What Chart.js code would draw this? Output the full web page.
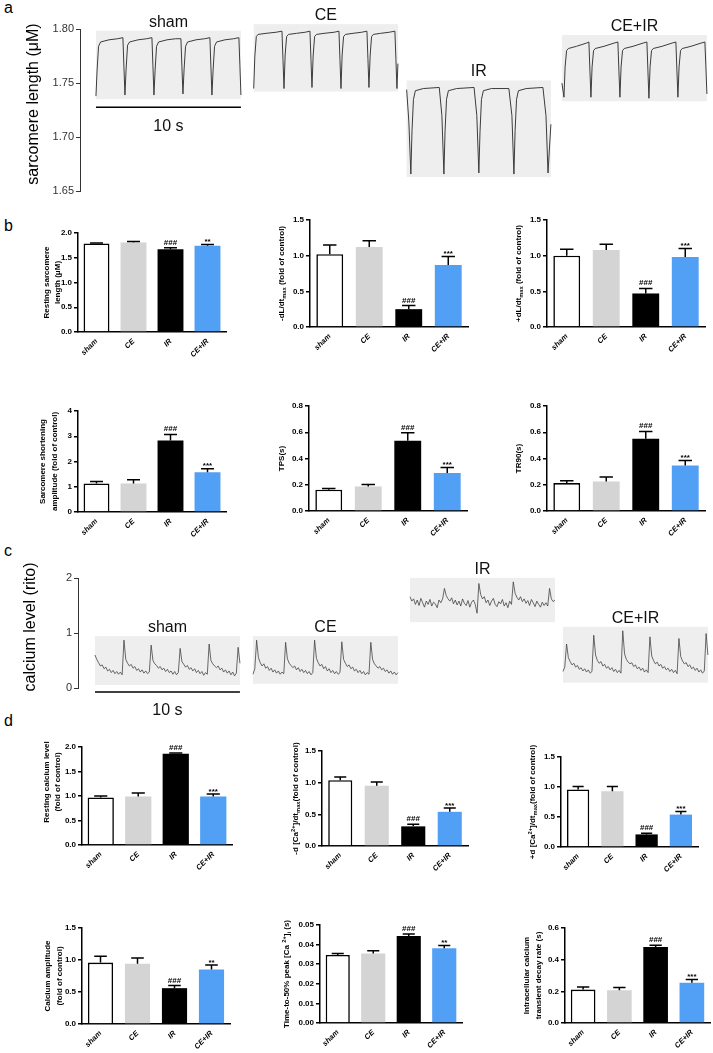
<!DOCTYPE html>
<html>
<head>
<meta charset="utf-8">
<script src="https://cdn.jsdelivr.net/npm/chart.js@4.4.1/dist/chart.umd.min.js"></script>
<style>
html,body{margin:0;padding:0;background:#fff;}
#wrap{position:relative;width:713px;height:1053px;overflow:hidden;font-family:"Liberation Sans",Arial,sans-serif;}
#wrap canvas{position:absolute;}
.lbl{position:absolute;font-size:16px;line-height:16px;color:#000;}
</style>
</head>
<body>
<div id="wrap">
  <div class="lbl" style="left:4px;top:0px">a</div>
  <div class="lbl" style="left:4px;top:218px">b</div>
  <div class="lbl" style="left:4px;top:543px">c</div>
  <div class="lbl" style="left:4px;top:713px">d</div>
</div>
<script>
// ---------------- DATA ----------------
const groups = ['sham', 'CE', 'IR', 'CE+IR'];

// panel b
const restingSL      = [1.79, 1.81, 1.67, 1.74];
const restingSLsem   = [0.01, 0.02, 0.03, 0.03];
const minusDLdt      = [1.02, 1.12, 0.25, 0.87];
const minusDLdtSem   = [0.13, 0.09, 0.05, 0.12];
const plusDLdt       = [1.00, 1.08, 0.47, 0.98];
const plusDLdtSem    = [0.09, 0.08, 0.07, 0.12];
const shortAmp       = [1.13, 1.13, 2.83, 1.57];
const shortAmpSem    = [0.08, 0.15, 0.24, 0.14];
const tps            = [0.162, 0.187, 0.536, 0.289];
const tpsSem         = [0.010, 0.015, 0.060, 0.042];
const tr90           = [0.213, 0.225, 0.550, 0.346];
const tr90Sem        = [0.017, 0.035, 0.056, 0.038];
// panel d
const restCa         = [0.97, 0.99, 1.86, 0.99];
const restCaSem      = [0.03, 0.07, 0.02, 0.05];
const minusDCa       = [1.04, 0.95, 0.31, 0.54];
const minusDCaSem    = [0.05, 0.06, 0.035, 0.06];
const plusDCa        = [0.96, 0.93, 0.21, 0.54];
const plusDCaSem     = [0.05, 0.08, 0.02, 0.05];
const caAmp          = [0.96, 0.94, 0.56, 0.85];
const caAmpSem       = [0.10, 0.09, 0.04, 0.07];
const t50            = [0.0347, 0.0355, 0.0444, 0.0381];
const t50Sem         = [0.0008, 0.0014, 0.0010, 0.0015];
const decay          = [0.211, 0.207, 0.480, 0.255];
const decaySem       = [0.017, 0.017, 0.011, 0.019];

const sig3 = ['', '', '###', '***'];
const sig2 = ['', '', '###', '**'];

// tick values
const ticksRestSL = [0, 0.5, 1.0, 1.5, 2.0];
const ticks15     = [0, 0.5, 1.0, 1.5];
const ticksAmp    = [0, 1, 2, 3, 4];
const ticks08     = [0, 0.2, 0.4, 0.6, 0.8];
const ticks005    = [0, 0.01, 0.02, 0.03, 0.04, 0.05];
const ticks06     = [0, 0.2, 0.4, 0.6];
const ticksSL     = [1.65, 1.70, 1.75, 1.80];
const ticksCa     = [0, 1, 2];

// panel a: sarcomere length traces (time in s within each 10 s record, length in uM)
const shamSL_t = [0,0.08,0.18,0.32,0.9,1.5,1.86,1.93,2.0, 2.08,2.18,2.32,2.9,3.5,3.86,3.93,4.0, 4.08,4.18,4.32,4.9,5.5,5.86,5.93,6.0, 6.08,6.18,6.32,6.9,7.5,7.86,7.93,8.0, 8.08,8.18,8.32,8.9,9.5,9.86,9.93,10.0];
const shamSL_v = [1.738,1.762,1.784,1.788,1.790,1.791,1.792,1.765,1.739, 1.763,1.785,1.788,1.790,1.791,1.792,1.766,1.739, 1.762,1.784,1.788,1.790,1.791,1.791,1.765,1.740, 1.763,1.784,1.788,1.790,1.791,1.792,1.765,1.739, 1.762,1.784,1.788,1.790,1.791,1.792,1.766,1.739];
const ceSL_t = [0.05,0.13,0.23,0.35,0.9,1.6,2.0,2.07,2.14, 2.22,2.32,2.45,3.0,3.6,3.93,4.0,4.07, 4.15,4.25,4.38,4.9,5.6,5.93,6.0,6.07, 6.15,6.25,6.38,6.9,7.5,7.86,7.93,8.0, 8.08,8.18,8.3,8.8,9.4,9.79,9.86,9.93,10.0];
const ceSL_v = [1.745,1.775,1.793,1.795,1.796,1.797,1.798,1.772,1.745, 1.776,1.793,1.795,1.796,1.797,1.798,1.772,1.746, 1.775,1.793,1.795,1.796,1.797,1.798,1.772,1.745, 1.776,1.793,1.795,1.796,1.797,1.798,1.772,1.746, 1.775,1.793,1.795,1.796,1.797,1.798,1.772,1.745,1.768];
const irSL_t = [0.05,0.2,0.34,0.42,0.52,0.65,1.2,2.3,2.48,2.62, 2.7,2.8,2.93,3.5,4.7,4.89,5.03, 5.11,5.21,5.34,5.9,7.1,7.31,7.45, 7.53,7.63,7.76,8.3,9.45,9.66,9.8, 9.9,10.0];
const irSL_v = [1.744,1.715,1.666,1.706,1.735,1.743,1.745,1.746,1.720,1.666, 1.706,1.735,1.743,1.745,1.746,1.720,1.667, 1.705,1.735,1.743,1.745,1.745,1.720,1.666, 1.706,1.735,1.743,1.745,1.746,1.720,1.667, 1.690,1.712];
const ceirSL_t = [0,0.14, 0.22,0.32,0.45,1.0,1.7,1.86,1.93,2.0, 2.08,2.18,2.3,2.9,3.6,3.86,3.93,4.0, 4.08,4.18,4.3,4.9,5.6,5.86,5.93,6.0, 6.08,6.18,6.3,6.9,7.6,7.86,7.93,8.0, 8.08,8.18,8.3,8.9,9.6,9.86,9.93,10.0];
const ceirSL_v = [1.750,1.737, 1.765,1.780,1.782,1.784,1.787,1.788,1.762,1.737, 1.765,1.780,1.782,1.784,1.787,1.788,1.762,1.737, 1.765,1.780,1.782,1.784,1.787,1.788,1.762,1.736, 1.765,1.780,1.782,1.784,1.787,1.788,1.762,1.737, 1.765,1.780,1.782,1.784,1.787,1.788,1.765,1.740];

// panel c: calcium traces, one sample every 0.125 s over 10 s (ratio)
const caSampleStep = 0.125;
const shamCa = [0.60,0.52,0.46,0.40,0.42,0.35,0.38,0.31,0.34,0.28,0.32,0.26,0.30,0.25,0.29,0.24,
  0.87, 0.52,0.45,0.40,0.43,0.36,0.39,0.32,0.35,0.29,0.33,0.27,0.31,0.26,0.29,
  0.78, 0.50,0.44,0.41,0.36,0.39,0.33,0.36,0.30,0.34,0.28,0.31,0.25,0.30,0.24,0.28,
  0.72, 0.48,0.43,0.38,0.41,0.34,0.37,0.31,0.35,0.28,0.32,0.26,0.30,0.23,0.28,0.25,
  0.80, 0.50,0.44,0.40,0.37,0.40,0.33,0.36,0.29,0.33,0.27,0.31,0.24,0.29,0.22,0.27,
  0.74, 0.45];
const ceCa = [0.25,0.35,
  0.87, 0.55,0.46,0.40,0.44,0.36,0.39,0.32,0.36,0.29,0.33,0.27,0.31,0.25,0.29,0.26,
  0.83, 0.53,0.45,0.41,0.37,0.40,0.33,0.37,0.30,0.34,0.28,0.32,0.26,0.30,0.24,0.28,
  0.87, 0.54,0.46,0.40,0.43,0.35,0.39,0.31,0.35,0.28,0.32,0.26,0.30,0.25,0.28,
  0.84, 0.52,0.45,0.39,0.42,0.35,0.38,0.31,0.34,0.28,0.32,0.26,0.30,0.24,0.28,0.25,
  0.83, 0.52,0.44,0.40,0.36,0.39,0.33,0.36,0.30,0.33,0.27,0.31,0.25,0.29,0.24,0.28];
const irCa = [1.66,1.58,1.62,1.52,1.60,1.50,1.63,1.55,1.47,1.58,1.52,1.61,1.49,1.56,1.53,1.46,1.60,1.55,1.62,
  1.81, 1.68,1.62,1.58,1.64,1.53,1.60,1.51,1.58,1.49,1.62,1.54,1.50,1.59,1.47,1.56,1.60,1.52,1.36,
  1.90, 1.70,1.62,1.66,1.55,1.60,1.50,1.58,1.63,1.52,1.48,1.57,1.53,1.61,1.49,1.55,1.46,1.58,1.52,
  1.93, 1.72,1.65,1.60,1.66,1.57,1.62,1.54,1.59,1.50,1.61,1.55,1.48,1.58,1.52,1.47,1.56,1.50,1.55,1.49,
  1.81, 1.62,1.57,1.60];
const ceirCa = [0.30,0.38,
  0.80, 0.55,0.48,0.42,0.45,0.38,0.41,0.34,0.37,0.31,0.35,0.29,0.33,0.27,0.30,
  0.96, 0.60,0.50,0.45,0.48,0.40,0.43,0.36,0.39,0.33,0.37,0.30,0.34,0.28,0.32,0.27,
  1.04, 0.62,0.52,0.47,0.44,0.46,0.39,0.42,0.35,0.38,0.32,0.36,0.29,0.33,0.28,
  0.93, 0.58,0.50,0.44,0.47,0.40,0.43,0.36,0.39,0.33,0.36,0.30,0.34,0.28,0.32,0.26,
  0.90, 0.57,0.49,0.44,0.46,0.39,0.42,0.35,0.38,0.32,0.36,0.29,0.33,0.27,0.31,
  0.99, 0.60];

// ---------------- STYLE ----------------
const FAM = '"Liberation Sans", Arial, Helvetica, sans-serif';
const barFill   = ['#ffffff', '#d4d4d4', '#000000', '#529ff6'];
const barBorder = ['#000000', '#d4d4d4', '#000000', '#529ff6'];
const barBorderW = [1.6, 0, 0, 0];

// ---------------- PLUGINS ----------------
const errPlugin = {
  id: 'errbar',
  afterDatasetsDraw(chart, args, o) {
    if (!o || !o.sem) return;
    const meta = chart.getDatasetMeta(0), ys = chart.scales.y, ctx = chart.ctx;
    const vals = chart.data.datasets[0].data;
    ctx.save();
    ctx.strokeStyle = '#000'; ctx.lineWidth = 1.5; ctx.lineCap = 'butt';
    meta.data.forEach((bar, i) => {
      const top = ys.getPixelForValue(vals[i] + o.sem[i]);
      const cw = bar.width * 0.5;
      ctx.beginPath();
      ctx.moveTo(bar.x, bar.y); ctx.lineTo(bar.x, top);
      ctx.moveTo(bar.x - cw / 2, top); ctx.lineTo(bar.x + cw / 2, top);
      ctx.stroke();
      const s = o.sig[i];
      if (s) {
        ctx.fillStyle = '#000';
        ctx.font = 'bold 8px ' + FAM;
        ctx.textAlign = 'center'; ctx.textBaseline = 'alphabetic';
        ctx.fillText(s, bar.x, s[0] === '*' ? top - 0.5 : top - 3);
      }
    });
    ctx.restore();
  }
};

const ytitlePlugin = {
  id: 'ytitle',
  afterDraw(chart, args, o) {
    if (!o || !o.lines) return;
    const ctx = chart.ctx, ca = chart.chartArea;
    const cx = o.x - o.ox;
    const cy = (o.y != null) ? o.y - o.oy : (ca.top + ca.bottom) / 2;
    ctx.save();
    ctx.translate(cx, cy);
    ctx.rotate(-Math.PI / 2);
    ctx.fillStyle = '#000'; ctx.textBaseline = 'middle'; ctx.textAlign = 'left';
    o.lines.forEach((line, j) => {
      const segs = line.map(s => {
        const small = s[1] !== '';
        const f = o.weight + ' ' + (small ? o.size * 0.72 : o.size) + 'px ' + FAM;
        ctx.font = f;
        return { t: s[0], m: s[1], f: f, w: ctx.measureText(s[0]).width };
      });
      const tot = segs.reduce((a, s) => a + s.w, 0);
      let x = -tot / 2;
      const ly = j * (o.gap || 0);
      segs.forEach(s => {
        ctx.font = s.f;
        const dy = s.m === 'sub' ? o.size * 0.32 : (s.m === 'sup' ? -o.size * 0.38 : 0);
        ctx.fillText(s.t, x, ly + dy);
        x += s.w;
      });
    });
    ctx.restore();
  }
};

const tracePlugin = {
  id: 'traces',
  beforeDatasetsDraw(chart, args, o) {
    if (!o || o.padTop == null) return;
    const ctx = chart.ctx, xs = chart.scales.x, ys = chart.scales.y;
    ctx.save();
    chart.data.datasets.forEach(ds => {
      if (!ds.grayBox) return;
      let x0 = Infinity, x1 = -Infinity, y0 = Infinity, y1 = -Infinity;
      ds.data.forEach(p => { x0 = Math.min(x0, p.x); x1 = Math.max(x1, p.x); y0 = Math.min(y0, p.y); y1 = Math.max(y1, p.y); });
      const px0 = xs.getPixelForValue(x0), px1 = xs.getPixelForValue(x1);
      const pyT = ys.getPixelForValue(y1) - o.padTop, pyB = ys.getPixelForValue(y0) + o.padBottom;
      ctx.fillStyle = '#eeeeee';
      ctx.fillRect(px0, pyT, px1 - px0, pyB - pyT);
      ctx.fillStyle = '#111';
      ctx.font = '16px ' + FAM;
      ctx.textAlign = 'center'; ctx.textBaseline = 'alphabetic';
      ctx.fillText(ds.label, (px0 + px1) / 2, pyT - 4);
    });
    ctx.restore();
  },
  afterDatasetsDraw(chart, args, o) {
    if (!o || o.padTop == null) return;
    const ctx = chart.ctx, xs = chart.scales.x, ys = chart.scales.y;
    ctx.save();
    chart.data.datasets.forEach(ds => {
      if (!ds.scaleBar) return;
      const a = ds.data[0], b = ds.data[ds.data.length - 1];
      const cx = (xs.getPixelForValue(a.x) + xs.getPixelForValue(b.x)) / 2;
      const cy = ys.getPixelForValue(a.y);
      ctx.fillStyle = '#111';
      ctx.font = '16px ' + FAM;
      ctx.textAlign = 'center'; ctx.textBaseline = 'middle';
      ctx.fillText(ds.label, cx, cy + 19);
    });
    ctx.restore();
  }
};

Chart.register(errPlugin, ytitlePlugin, tracePlugin);

// ---------------- HELPERS ----------------
const wrap = document.getElementById('wrap');
function addCanvas(left, top, w, h) {
  const c = document.createElement('canvas');
  c.width = w; c.height = h;
  c.style.left = left + 'px'; c.style.top = top + 'px';
  c.style.width = w + 'px'; c.style.height = h + 'px';
  wrap.appendChild(c);
  return c;
}

function barChart(g, vals, sem, sig, tickVals, dec, title) {
  const padTop = 32, xH = 36, padR = 8;
  const w = g.R - g.col + padR, h = (g.B - g.T) + padTop + xH;
  const cv = addCanvas(g.col, g.T - padTop, w, h);
  new Chart(cv, {
    type: 'bar',
    data: {
      labels: groups,
      datasets: [{
        data: vals,
        backgroundColor: barFill,
        borderColor: barBorder,
        borderWidth: barBorderW,
        borderSkipped: 'start',
        barPercentage: g.bp || 0.68,
        categoryPercentage: 1
      }]
    },
    options: {
      responsive: false, animation: false, events: [],
      layout: { padding: { top: padTop, right: padR, left: 0, bottom: 0 } },
      plugins: {
        legend: { display: false }, tooltip: { enabled: false },
        errbar: { sem: sem, sig: sig },
        ytitle: Object.assign({ ox: g.col, oy: g.T - padTop, size: 8, weight: 'bold', gap: 11 }, title)
      },
      scales: {
        x: {
          grid: { display: false, drawTicks: false },
          border: { display: true, color: '#000', width: 1.5 },
          ticks: { color: '#000', font: { size: 7.5, weight: 'bold', style: 'italic', family: FAM }, maxRotation: 45, minRotation: 45, padding: 5, autoSkip: false },
          afterFit: s => { s.height = xH; }
        },
        y: {
          min: tickVals[0], max: tickVals[tickVals.length - 1],
          grid: { display: true, drawOnChartArea: false, drawTicks: true, tickLength: 4, color: '#000', tickColor: '#000', lineWidth: 1.5, tickWidth: 1.5 },
          border: { display: true, color: '#000', width: 1.5 },
          ticks: { color: '#000', font: { size: 8, weight: 'bold', family: FAM }, padding: 2, callback: v => Number(v).toFixed(dec) },
          afterBuildTicks: s => { s.ticks = tickVals.map(v => ({ value: v })); },
          afterFit: s => { s.width = g.L - g.col; }
        }
      }
    }
  });
}

function traceChart(g, traces, scale, tickVals, dec, title) {
  const cv = addCanvas(0, g.top, 713, g.h);
  const datasets = traces.map(tr => ({
    label: tr.label, grayBox: true,
    data: tr.t.map((t, i) => ({ x: tr.off + t, y: tr.v[i] })),
    borderColor: g.lineColor, borderWidth: g.lineW, pointRadius: 0, tension: 0
  }));
  datasets.push({
    label: scale.label, scaleBar: true,
    data: [{ x: scale.x0, y: scale.y }, { x: scale.x0 + scale.len, y: scale.y }],
    borderColor: '#000', borderWidth: 1.5, pointRadius: 0, clip: false
  });
  new Chart(cv, {
    type: 'line',
    data: { datasets: datasets },
    options: {
      responsive: false, animation: false, events: [],
      layout: { padding: { top: g.padTop, bottom: g.padBottom, left: 0, right: 0 } },
      plugins: {
        legend: { display: false }, tooltip: { enabled: false },
        traces: { padTop: g.boxPad[0], padBottom: g.boxPad[1] },
        ytitle: Object.assign({ ox: 0, oy: g.top, size: 16, weight: 'normal', gap: 0 }, title)
      },
      scales: {
        x: { type: 'linear', display: false, min: 0, max: g.xmax },
        y: {
          min: tickVals[0], max: tickVals[tickVals.length - 1],
          grid: { display: true, drawOnChartArea: false, drawTicks: true, tickLength: 4, color: '#333', tickColor: '#333', lineWidth: 1, tickWidth: 1 },
          border: { display: true, color: '#333', width: 1 },
          ticks: { color: '#333', font: { size: 11, family: FAM }, padding: 2, callback: v => Number(v).toFixed(dec) },
          afterBuildTicks: s => { s.ticks = tickVals.map(v => ({ value: v })); },
          afterFit: s => { s.width = g.axisW; }
        }
      }
    }
  });
}

const caTimes = arr => arr.map((v, i) => i * caSampleStep);

// ---------------- PANEL a ----------------
traceChart(
  { top: 0, h: 200, padTop: 29, padBottom: 7, axisW: 80, xmax: 43.66, boxPad: [7, 3], lineColor: '#3c3c3c', lineW: 1 },
  [
    { label: 'sham',  off: 1.10,  t: shamSL_t, v: shamSL_v },
    { label: 'CE',    off: 11.93, t: ceSL_t,   v: ceSL_v },
    { label: 'IR',    off: 22.48, t: irSL_t,   v: irSL_v },
    { label: 'CE+IR', off: 33.24, t: ceirSL_t, v: ceirSL_v }
  ],
  { label: '10 s', x0: 1.10, len: 10, y: 1.7278 },
  ticksSL, 2,
  { x: 34, y: 104, lines: [[['sarcomere length (μM)', '']]] }
);

// ---------------- PANEL b ----------------
barChart({ col: 0,   L: 78,  R: 226, T: 233, B: 332, bp: 0.70 }, restingSL, restingSLsem, sig2, ticksRestSL, 1,
  { x: 47, gap: 11, lines: [[['Resting sarcomere', '']], [['length (μM)', '']]] });
barChart({ col: 240, L: 310, R: 468, T: 220, B: 327 }, minusDLdt, minusDLdtSem, sig3, ticks15, 1,
  { x: 282, lines: [[['-dL/dt', ''], ['max', 'sub'], [' (fold of control)', '']]] });
barChart({ col: 475, L: 547, R: 705, T: 220, B: 327 }, plusDLdt, plusDLdtSem, sig3, ticks15, 1,
  { x: 519, lines: [[['+dL/dt', ''], ['max', 'sub'], [' (fold of control)', '']]] });
barChart({ col: 0,   L: 78,  R: 226, T: 411, B: 512, bp: 0.70 }, shortAmp, shortAmpSem, sig3, ticksAmp, 0,
  { x: 43, gap: 12, lines: [[['Sarcomere shortening', '']], [['amplitude (fold of control)', '']]] });
barChart({ col: 240, L: 309, R: 467, T: 406, B: 511 }, tps, tpsSem, sig3, ticks08, 1,
  { x: 282, lines: [[['TPS(s)', '']]] });
barChart({ col: 475, L: 547, R: 705, T: 406, B: 511 }, tr90, tr90Sem, sig3, ticks08, 1,
  { x: 519, lines: [[['TR90(s)', '']]] });

// ---------------- PANEL c ----------------
traceChart(
  { top: 560, h: 170, padTop: 18, padBottom: 42, axisW: 78, xmax: 43.8, boxPad: [4, 9], lineColor: '#444', lineW: 0.8 },
  [
    { label: 'sham',  off: 1.17,  t: caTimes(shamCa), v: shamCa },
    { label: 'CE',    off: 12.07, t: caTimes(ceCa),   v: ceCa },
    { label: 'IR',    off: 22.90, t: caTimes(irCa),   v: irCa },
    { label: 'CE+IR', off: 33.45, t: caTimes(ceirCa), v: ceirCa }
  ],
  { label: '10 s', x0: 1.17, len: 10, y: -0.073 },
  ticksCa, 0,
  { x: 31, y: 627, lines: [[['calcium level (rito)', '']]] }
);

// ---------------- PANEL d ----------------
barChart({ col: 0,   L: 82,  R: 232, T: 747, B: 845, bp: 0.70 }, restCa, restCaSem, sig3, ticksRestSL, 1,
  { x: 47, y: 782, gap: 11, lines: [[['Resting calcium level', '']], [['(fold of control)', '']]] });
barChart({ col: 240, L: 322, R: 468, T: 751, B: 846, bp: 0.66 }, minusDCa, minusDCaSem, sig3, ticks15, 1,
  { x: 296, lines: [[['-d [Ca', ''], ['2+', 'sup'], [']/dt', ''], ['max', 'sub'], ['(fold of control)', '']]] });
barChart({ col: 475, L: 561, R: 698, T: 757, B: 847, bp: 0.65 }, plusDCa, plusDCaSem, sig3, ticks15, 1,
  { x: 533, lines: [[['+d [Ca', ''], ['2+', 'sup'], [']/dt', ''], ['max', 'sub'], ['(fold of control)', '']]] });
barChart({ col: 0,   L: 82,  R: 230, T: 928, B: 1024 }, caAmp, caAmpSem, sig2, ticks15, 1,
  { x: 48, gap: 12, lines: [[['Calcium amplitude', '']], [['(fold of control)', '']]] });
barChart({ col: 240, L: 320, R: 462, T: 925, B: 1023 }, t50, t50Sem, sig2, ticks005, 2,
  { x: 287, lines: [[['Time-to-50% peak [Ca ', ''], ['2+', 'sup'], [']', ''], ['i', 'sub'], [' (s)', '']]] });
barChart({ col: 475, L: 565, R: 710, T: 928, B: 1023 }, decay, decaySem, sig3, ticks06, 1,
  { x: 527, gap: 12, lines: [[['Intracellular calcium', '']], [['transient decay rate (s)', '']]] });
</script>
</body>
</html>
